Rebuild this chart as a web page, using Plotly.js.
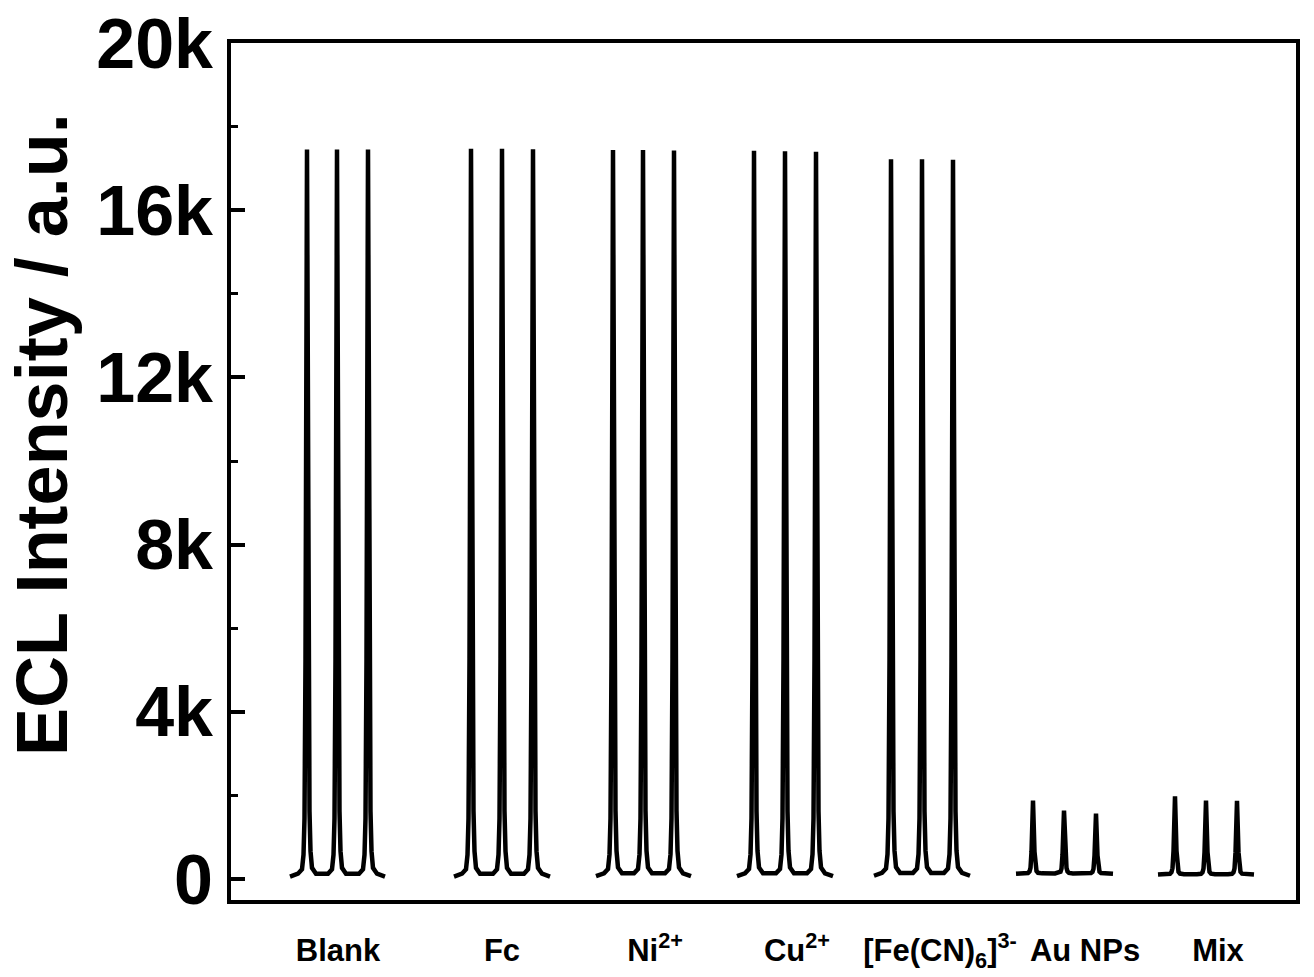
<!DOCTYPE html>
<html>
<head>
<meta charset="utf-8">
<script src="https://cdn.plot.ly/plotly-3.0.1.min.js"></script>
<style>html,body{margin:0;padding:0;background:#fff;}#chart{width:1314px;height:977px;}</style>
</head>
<body>
<div id="chart"></div>
<script>
// ---- data ----
const groupLabels = ['Blank', 'Fc', 'Ni<sup>2+</sup>', 'Cu<sup>2+</sup>', '[Fe(CN)<sub>6</sub>]<sup>3-</sup>', 'Au NPs', 'Mix'];
const labelPositions = [107, 271, 424, 566, 709, 854, 987];   // time axis (s)
const blankPeakTimes = [76, 106, 137];
const fcPeakTimes    = [240, 271, 302];
const niPeakTimes    = [382, 412, 443];
const cuPeakTimes    = [523, 554, 585];
const fePeakTimes    = [660, 691, 722];
const auPeakTimes    = [802, 833, 865];
const mixPeakTimes   = [944, 975, 1006];
const blankHeights = [17450, 17450, 17450];
const fcHeights    = [17470, 17470, 17460];
const niHeights    = [17440, 17440, 17430];
const cuHeights    = [17420, 17410, 17400];
const feHeights    = [17220, 17220, 17210];
const auHeights    = [1880, 1640, 1570];
const mixHeights   = [1980, 1880, 1870];
const baselines    = [60, 60, 70, 70, 80, 130, 110];
// peak profile: time offset (s) and fraction of peak height
const profileOffsets   = [-9, -5, -3.5, -2.5, -1.5, 0, 1.5, 2.5, 3.5, 5, 9];
const profileFractions = [0.004, 0.01, 0.03, 0.08, 0.3, 1, 0.3, 0.09, 0.035, 0.012, 0.004];
const yTickVals = [0, 4000, 8000, 12000, 16000, 20000];
const yTickText = ['0', '4k', '8k', '12k', '16k', '20k'];
const yMinorVals = [2000, 6000, 10000, 14000, 18000];

const groups = [
  [blankPeakTimes, blankHeights], [fcPeakTimes, fcHeights], [niPeakTimes, niHeights],
  [cuPeakTimes, cuHeights], [fePeakTimes, feHeights], [auPeakTimes, auHeights], [mixPeakTimes, mixHeights]
];

const traces = groups.map(([times, heights], g) => {
  const base = baselines[g];
  const x = [times[0] - 17], y = [base];
  times.forEach((t, i) => {
    profileOffsets.forEach((o, k) => {
      x.push(t + o);
      y.push(base + (heights[i] - base) * profileFractions[k]);
    });
  });
  x.push(times[times.length - 1] + 17); y.push(base);
  return {x, y, type: 'scatter', mode: 'lines', line: {color: '#000', width: 4.5}, hoverinfo: 'skip', showlegend: false};
});

const fontFam = 'Liberation Sans, Arial, Helvetica, sans-serif';
const layout = {
  width: 1314, height: 977,
  margin: {l: 231, r: 18, t: 43, b: 77},
  paper_bgcolor: '#fff', plot_bgcolor: '#fff',
  showlegend: false,
  xaxis: {
    range: [0, 1065], showgrid: false, zeroline: false,
    showline: true, linecolor: '#000', linewidth: 4, mirror: true,
    tickmode: 'array', tickvals: labelPositions, ticktext: groupLabels,
    ticks: '', ticklabelstandoff: 20,
    tickfont: {family: fontFam, size: 31, color: '#000', weight: 'bold'}
  },
  yaxis: {
    range: [-500, 20000], showgrid: false, zeroline: false,
    showline: true, linecolor: '#000', linewidth: 4, mirror: true,
    tickmode: 'array', tickvals: yTickVals, ticktext: yTickText,
    ticks: 'inside', ticklen: 14, tickwidth: 4, tickcolor: '#000',
    minor: {tickmode: 'array', tickvals: yMinorVals, ticks: 'inside', ticklen: 7, tickwidth: 3, tickcolor: '#000', showgrid: false},
    ticklabelstandoff: 0,
    tickfont: {family: fontFam, size: 70, color: '#000', weight: 'bold'}
  },
  annotations: [{
    text: 'ECL Intensity / a.u.', xref: 'paper', yref: 'paper',
    x: -0.178, y: 0.543, xanchor: 'center', yanchor: 'middle', textangle: -90,
    showarrow: false, font: {family: fontFam, size: 72, color: '#000', weight: 'bold'}
  }]
};

Plotly.newPlot('chart', traces, layout, {displayModeBar: false, staticPlot: true});
</script>
</body>
</html>
